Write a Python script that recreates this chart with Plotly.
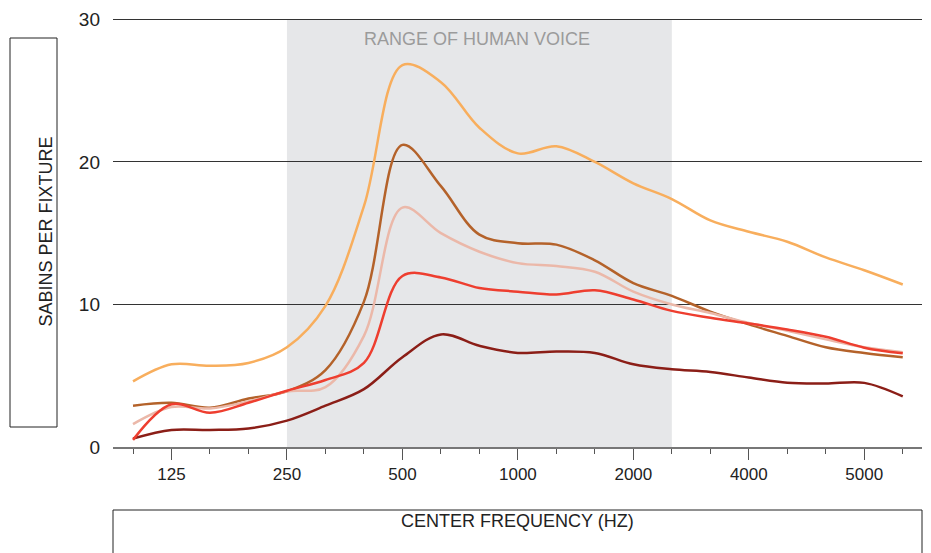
import plotly.graph_objects as go

# Third-octave band index (0 = 100 Hz ... 20 = 10 kHz)
band_index = list(range(21))
tick_positions = [1, 4, 7, 10, 13, 16, 19]
tick_labels = ["125", "250", "500", "1000", "2000", "4000", "5000"]

orange = [4.6, 5.8, 5.7, 5.9, 7.0, 9.9, 16.9, 26.8, 25.6, 22.4, 20.6, 21.1, 20.0, 18.5, 17.4, 15.9, 15.1, 14.4, 13.3, 12.4, 11.4]
brown = [2.9, 3.1, 2.75, 3.4, 3.9, 5.4, 10.2, 21.2, 18.3, 14.9, 14.3, 14.2, 13.1, 11.5, 10.6, 9.5, 8.6, 7.8, 7.0, 6.6, 6.3]
pink = [1.6, 2.8, 2.7, 3.2, 3.9, 4.2, 7.8, 16.8, 15.0, 13.7, 12.9, 12.7, 12.3, 10.9, 10.0, 9.4, 8.7, 8.15, 7.55, 7.0, 6.65]
red = [0.5, 3.0, 2.4, 3.1, 3.95, 4.7, 5.9, 12.0, 11.9, 11.15, 10.9, 10.7, 11.0, 10.35, 9.55, 9.07, 8.67, 8.25, 7.74, 6.97, 6.57]
dark_red = [0.6, 1.2, 1.2, 1.3, 1.85, 2.9, 4.06, 6.3, 7.9, 7.1, 6.6, 6.7, 6.6, 5.8, 5.45, 5.27, 4.87, 4.5, 4.45, 4.5, 3.55]

voice_start, voice_end = 4, 14

series = [
    ("orange", orange, "#F8AE5D"),
    ("dark red", dark_red, "#8B1E17"),
    ("brown", brown, "#B4622A"),
    ("pink", pink, "#EBB8A9"),
    ("red", red, "#EE3E2F"),
]

FONT = "Liberation Sans, Arial, Helvetica, sans-serif"

# page body has an 8px margin; figure is sized to fit inside the 931x553 window
W, H = 923, 545
ML, MR, MT, MB = 105, 9, 10, 106
PW = W - ML - MR
PH = H - MT - MB
YMAX = 30.1


def px_x(px):
    return (px - 8 - ML) / PW


def px_y(py):
    return (H - MB - (py - 8)) / PH


fig = go.Figure()
for name, vals, col in series:
    fig.add_trace(go.Scatter(
        x=band_index, y=vals, mode="lines", name=name,
        line=dict(color=col, width=2.5, shape="spline", smoothing=1.0),
        hoverinfo="skip",
    ))

fig.add_shape(type="rect", xref="x", yref="y", x0=voice_start, x1=voice_end, y0=0, y1=30,
              fillcolor="#E6E7E9", line=dict(width=0), layer="below")
fig.add_annotation(x=(voice_start + voice_end) / 2 - 0.05, y=28.6, xref="x", yref="y",
                   text="RANGE OF HUMAN VOICE", showarrow=False,
                   font=dict(family=FONT, size=18, color="#9B9B9B"))

# y-axis title box
fig.add_shape(type="rect", xref="paper", yref="paper", x0=px_x(10), x1=px_x(57), y0=px_y(427), y1=px_y(38),
              line=dict(color="#222", width=1), fillcolor="rgba(0,0,0,0)")
fig.add_annotation(xref="paper", yref="paper", x=px_x(33.5), y=px_y(232), text="SABINS PER FIXTURE",
                   textangle=-90, showarrow=False, font=dict(family=FONT, size=18, color="#222"))
# x-axis title box
fig.add_shape(type="rect", xref="paper", yref="paper", x0=px_x(113), x1=px_x(922), y0=px_y(510), y1=px_y(570),
              line=dict(color="#222", width=1), fillcolor="rgba(0,0,0,0)")
fig.add_annotation(xref="paper", yref="paper", x=px_x(517), y=px_y(533), text="CENTER FREQUENCY (HZ)",
                   showarrow=False, font=dict(family=FONT, size=18, color="#222"))

fig.update_layout(
    width=W, height=H,
    margin=dict(l=ML, r=MR, t=MT, b=MB, autoexpand=False),
    paper_bgcolor="white", plot_bgcolor="white",
    showlegend=False,
    font=dict(family=FONT, size=17, color="#222"),
    xaxis=dict(
        range=[-0.52, 20.5], tickmode="array", tickvals=tick_positions, ticktext=tick_labels,
        ticks="outside", ticklen=11, tickcolor="#555", tickwidth=1, automargin=False,
        showline=True, linecolor="#777", linewidth=2, showgrid=False, zeroline=False,
        minor=dict(dtick=1, tick0=0, ticks="outside", ticklen=5, tickcolor="#555", tickwidth=1, showgrid=False),
        tickfont=dict(family=FONT, size=17, color="#222"),
    ),
    yaxis=dict(
        range=[0, YMAX], tickvals=[0, 10, 20, 30], showgrid=True, gridcolor="#333", gridwidth=1,
        zeroline=False, showline=False, ticks="", ticklabelstandoff=12, automargin=False,
        tickfont=dict(family=FONT, size=19, color="#222"),
    ),
)

fig.write_html("out.html", config={"displayModeBar": False})
